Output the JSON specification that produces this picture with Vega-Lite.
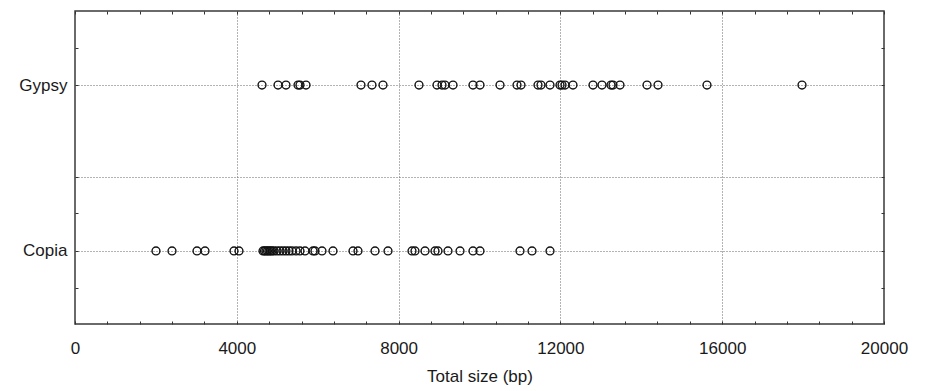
{
  "$schema": "https://vega.github.io/schema/vega-lite/v6.json",
  "width": 809,
  "height": 313,
  "autosize": {"type": "none"},
  "padding": {"left": 75, "top": 11, "right": 44, "bottom": 67},
  "config": {
    "view": {"stroke": "#3a3a3a", "strokeWidth": 1.5},
    "font": "Liberation Sans",
    "axis": {
      "domain": false,
      "tickColor": "#333",
      "tickWidth": 1,
      "tickSize": -3,
      "labelColor": "#1a1a1a",
      "labelFont": "Liberation Sans",
      "labelFontSize": 17,
      "titleFont": "Liberation Sans",
      "titleFontSize": 17,
      "titleFontWeight": "normal",
      "titleColor": "#1a1a1a",
      "gridColor": "#666",
      "gridDash": [1, 2],
      "gridWidth": 1
    }
  },
  "data": {
    "values": [
      {"family": "Gypsy", "row": 2, "size": 4623},
      {"family": "Gypsy", "row": 2, "size": 5019},
      {"family": "Gypsy", "row": 2, "size": 5216},
      {"family": "Gypsy", "row": 2, "size": 5513},
      {"family": "Gypsy", "row": 2, "size": 5562},
      {"family": "Gypsy", "row": 2, "size": 5711},
      {"family": "Gypsy", "row": 2, "size": 7070},
      {"family": "Gypsy", "row": 2, "size": 7342},
      {"family": "Gypsy", "row": 2, "size": 7614},
      {"family": "Gypsy", "row": 2, "size": 8504},
      {"family": "Gypsy", "row": 2, "size": 8949},
      {"family": "Gypsy", "row": 2, "size": 9073},
      {"family": "Gypsy", "row": 2, "size": 9147},
      {"family": "Gypsy", "row": 2, "size": 9345},
      {"family": "Gypsy", "row": 2, "size": 9839},
      {"family": "Gypsy", "row": 2, "size": 10012},
      {"family": "Gypsy", "row": 2, "size": 10507},
      {"family": "Gypsy", "row": 2, "size": 10927},
      {"family": "Gypsy", "row": 2, "size": 11026},
      {"family": "Gypsy", "row": 2, "size": 11446},
      {"family": "Gypsy", "row": 2, "size": 11520},
      {"family": "Gypsy", "row": 2, "size": 11743},
      {"family": "Gypsy", "row": 2, "size": 11990},
      {"family": "Gypsy", "row": 2, "size": 12040},
      {"family": "Gypsy", "row": 2, "size": 12114},
      {"family": "Gypsy", "row": 2, "size": 12311},
      {"family": "Gypsy", "row": 2, "size": 12806},
      {"family": "Gypsy", "row": 2, "size": 13028},
      {"family": "Gypsy", "row": 2, "size": 13251},
      {"family": "Gypsy", "row": 2, "size": 13300},
      {"family": "Gypsy", "row": 2, "size": 13473},
      {"family": "Gypsy", "row": 2, "size": 14141},
      {"family": "Gypsy", "row": 2, "size": 14413},
      {"family": "Gypsy", "row": 2, "size": 15624},
      {"family": "Gypsy", "row": 2, "size": 17973},
      {"family": "Copia", "row": 1, "size": 2002},
      {"family": "Copia", "row": 1, "size": 2398},
      {"family": "Copia", "row": 1, "size": 3016},
      {"family": "Copia", "row": 1, "size": 3214},
      {"family": "Copia", "row": 1, "size": 3931},
      {"family": "Copia", "row": 1, "size": 4054},
      {"family": "Copia", "row": 1, "size": 4648},
      {"family": "Copia", "row": 1, "size": 4685},
      {"family": "Copia", "row": 1, "size": 4722},
      {"family": "Copia", "row": 1, "size": 4759},
      {"family": "Copia", "row": 1, "size": 4796},
      {"family": "Copia", "row": 1, "size": 4833},
      {"family": "Copia", "row": 1, "size": 4870},
      {"family": "Copia", "row": 1, "size": 4920},
      {"family": "Copia", "row": 1, "size": 4994},
      {"family": "Copia", "row": 1, "size": 5068},
      {"family": "Copia", "row": 1, "size": 5142},
      {"family": "Copia", "row": 1, "size": 5216},
      {"family": "Copia", "row": 1, "size": 5291},
      {"family": "Copia", "row": 1, "size": 5365},
      {"family": "Copia", "row": 1, "size": 5464},
      {"family": "Copia", "row": 1, "size": 5562},
      {"family": "Copia", "row": 1, "size": 5686},
      {"family": "Copia", "row": 1, "size": 5884},
      {"family": "Copia", "row": 1, "size": 5933},
      {"family": "Copia", "row": 1, "size": 6106},
      {"family": "Copia", "row": 1, "size": 6378},
      {"family": "Copia", "row": 1, "size": 6873},
      {"family": "Copia", "row": 1, "size": 6996},
      {"family": "Copia", "row": 1, "size": 7417},
      {"family": "Copia", "row": 1, "size": 7738},
      {"family": "Copia", "row": 1, "size": 8331},
      {"family": "Copia", "row": 1, "size": 8405},
      {"family": "Copia", "row": 1, "size": 8653},
      {"family": "Copia", "row": 1, "size": 8900},
      {"family": "Copia", "row": 1, "size": 8974},
      {"family": "Copia", "row": 1, "size": 9221},
      {"family": "Copia", "row": 1, "size": 9518},
      {"family": "Copia", "row": 1, "size": 9839},
      {"family": "Copia", "row": 1, "size": 10012},
      {"family": "Copia", "row": 1, "size": 11001},
      {"family": "Copia", "row": 1, "size": 11298},
      {"family": "Copia", "row": 1, "size": 11743}
    ]
  },
  "resolve": {"axis": {"x": "independent", "y": "independent"}},
  "layer": [
    {
      "mark": {"type": "point", "shape": "circle", "filled": false, "size": 62, "strokeWidth": 1.4, "color": "#111", "opacity": 1},
      "encoding": {
        "x": {
          "field": "size", "type": "quantitative",
          "scale": {"domain": [0, 20000], "nice": false, "zero": false},
          "axis": {
            "orient": "bottom",
            "values": [0, 800, 1600, 2400, 3200, 4000, 4800, 5600, 6400, 7200, 8000, 8800, 9600, 10400, 11200, 12000, 12800, 13600, 14400, 15200, 16000, 16800, 17600, 18400, 19200, 20000],
            "format": "d",
            "labelExpr": "datum.value % 4000 === 0 ? datum.label : ''",
            "labelFlush": false,
            "labelOverlap": false,
            "labelBound": false,
            "labelPadding": 19,
            "title": "Total size (bp)",
            "titlePadding": 12,
            "grid": true,
            "gridOpacity": {"condition": {"test": "datum.value % 4000 === 0 && datum.value > 0 && datum.value < 20000", "value": 1}, "value": 0}
          }
        },
        "y": {
          "field": "row", "type": "quantitative",
          "scale": {"domain": [0.56, 2.446], "nice": false, "zero": false},
          "axis": {
            "orient": "left",
            "values": [0.777, 1, 1.229, 1.446, 2, 2.223],
            "labelExpr": "datum.value === 2 ? 'Gypsy' : datum.value === 1 ? 'Copia' : ''",
            "labelOverlap": false,
            "labelPadding": 11,
            "labelBaseline": "middle",
            "title": null,
            "grid": true,
            "gridOpacity": {"condition": {"test": "datum.value === 1 || datum.value === 2 || datum.value === 1.446", "value": 1}, "value": 0}
          }
        }
      }
    },
    {
      "mark": {"type": "point", "opacity": 0},
      "encoding": {
        "x": {
          "field": "size", "type": "quantitative",
          "scale": {"domain": [0, 20000], "nice": false, "zero": false},
          "axis": {
            "orient": "top",
            "values": [0, 800, 1600, 2400, 3200, 4000, 4800, 5600, 6400, 7200, 8000, 8800, 9600, 10400, 11200, 12000, 12800, 13600, 14400, 15200, 16000, 16800, 17600, 18400, 19200, 20000],
            "labels": false,
            "title": null,
            "grid": false
          }
        },
        "y": {
          "field": "row", "type": "quantitative",
          "scale": {"domain": [0.56, 2.446], "nice": false, "zero": false},
          "axis": {
            "orient": "right",
            "values": [0.777, 1, 1.229, 1.446, 2, 2.223],
            "labels": false,
            "title": null,
            "grid": false
          }
        }
      }
    }
  ]
}
